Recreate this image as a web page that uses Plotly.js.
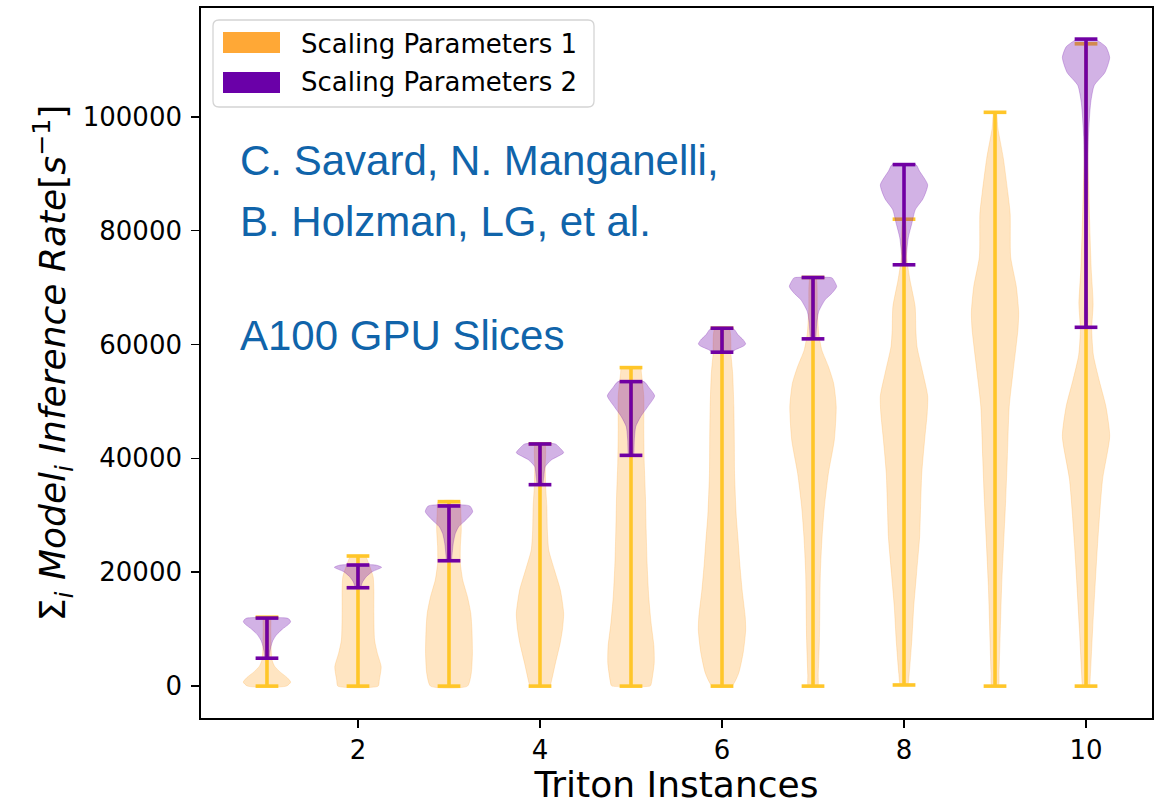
<!DOCTYPE html>
<html>
<head>
<meta charset="utf-8">
<script src="https://cdn.plot.ly/plotly-3.0.1.min.js"></script>
<style>html,body{margin:0;padding:0;background:#fff;}#chart{width:1165px;height:805px;}</style>
</head>
<body>
<div id="chart"></div>
<script>
// ---------- data ----------
const s1Positions = [1, 2, 3, 4, 5, 6, 7, 8, 9, 10];
const s2Positions = [1, 2, 3, 4, 5, 6, 7, 8, 10];
const xTickVals = [2, 4, 6, 8, 10];
const yTickVals = [0, 20000, 40000, 60000, 80000, 100000];

const s1Min = [0, 0, 0, 0, 0, 0, 0, 200, 0, 0];
const s1Max = [12100, 22850, 32400, 42530, 55940, 62860, 71770, 82000, 100780, 112810];
const s2Min = [4900, 17280, 22020, 35380, 40530, 58650, 60990, 74000, 63020];
const s2Max = [11950, 21270, 31640, 42530, 53480, 62860, 71770, 91600, 113640];

// density profiles (value level, relative half-width 0..1)
const s1DensY = [
  [0, 700, 1500, 2500, 3500, 4500, 6000, 8000, 10000, 12100],
  [0, 1050, 3400, 5740, 8100, 12780, 16870, 19210, 21000, 22850],
  [0, 2230, 5740, 9840, 12800, 15700, 18630, 21560, 24480, 27420, 30350, 32400],
  [0, 470, 3990, 7500, 10000, 12780, 16870, 20390, 23900, 27420, 31510, 35030, 38500, 42530],
  [0, 180, 3990, 6900, 11020, 15700, 21560, 27420, 33270, 39140, 45000, 50860, 54940, 55940],
  [0, 2230, 6000, 9840, 12180, 16870, 21560, 25660, 30000, 37380, 43000, 49090, 54940, 58170, 62860],
  [0, 2000, 8100, 19800, 26000, 31510, 37380, 43230, 49090, 53200, 56120, 59050, 62000, 66000, 71770],
  [200, 2230, 8100, 13880, 19800, 26250, 31510, 37380, 43230, 47930, 50960, 54940, 59610, 62500, 66660, 71360, 75000, 82000],
  [0, 2500, 17520, 32570, 40090, 49100, 55130, 62660, 65660, 70180, 75430, 82960, 86710, 92730, 98000, 100780],
  [0, 230, 10020, 25040, 36330, 43850, 49100, 53620, 58140, 62660, 67150, 73180, 79190, 92730, 107770, 112810]
];
const s1DensW = [
  [0.82, 1.0, 0.85, 0.55, 0.32, 0.22, 0.18, 0.17, 0.16, 0.14],
  [0.85, 0.9, 0.98, 0.82, 0.7, 0.67, 0.67, 0.64, 0.5, 0.3],
  [0.78, 0.94, 0.99, 0.97, 0.92, 0.78, 0.58, 0.48, 0.48, 0.52, 0.5, 0.45],
  [0.42, 0.46, 0.65, 0.85, 0.95, 1.0, 0.86, 0.61, 0.37, 0.31, 0.29, 0.24, 0.22, 0.2],
  [0.8, 0.84, 0.98, 0.97, 0.85, 0.75, 0.68, 0.64, 0.61, 0.56, 0.54, 0.54, 0.44, 0.4],
  [0.41, 0.7, 0.9, 1.0, 0.98, 0.85, 0.75, 0.68, 0.6, 0.53, 0.52, 0.5, 0.45, 0.38, 0.3],
  [0.2, 0.22, 0.27, 0.31, 0.38, 0.48, 0.65, 0.9, 0.98, 0.87, 0.65, 0.37, 0.24, 0.18, 0.12],
  [0.15, 0.22, 0.33, 0.41, 0.53, 0.66, 0.7, 0.75, 0.87, 0.98, 1.0, 0.8, 0.55, 0.5, 0.47, 0.25, 0.12, 0.05],
  [0.14, 0.17, 0.28, 0.45, 0.52, 0.6, 0.76, 0.97, 1.0, 0.9, 0.66, 0.64, 0.54, 0.35, 0.12, 0.05],
  [0.15, 0.16, 0.28, 0.49, 0.7, 1.0, 0.84, 0.56, 0.31, 0.24, 0.3, 0.22, 0.17, 0.08, 0.05, 0.04]
];
const s2DensY = [
  [4900, 6000, 7000, 8000, 9000, 10000, 10800, 11300, 11700, 11950],
  [17280, 17450, 18330, 19210, 20090, 20860, 21270],
  [22020, 22730, 25080, 26830, 28000, 29170, 30630, 31640],
  [35380, 35670, 36780, 38540, 39720, 41000, 42000, 42530],
  [40530, 40890, 43230, 45570, 47330, 49090, 50980, 52500, 53480],
  [58650, 59050, 59700, 60100, 60810, 61690, 62500, 62860],
  [60990, 61390, 63740, 65780, 67840, 69000, 70180, 71650, 71770],
  [74000, 75670, 78750, 81230, 83700, 85560, 88040, 90500, 91600],
  [63020, 70180, 85200, 96500, 102520, 105520, 107770, 110410, 112290, 113360, 113640]
];
const s2DensW = [
  [0.08, 0.12, 0.17, 0.25, 0.4, 0.65, 0.9, 1.0, 0.95, 0.85],
  [0.1, 0.12, 0.2, 0.35, 0.6, 1.0, 0.75],
  [0.1, 0.12, 0.18, 0.27, 0.41, 0.71, 1.0, 0.88],
  [0.12, 0.13, 0.16, 0.22, 0.48, 1.0, 0.8, 0.65],
  [0.1, 0.12, 0.14, 0.2, 0.41, 0.71, 1.0, 0.75, 0.55],
  [0.4, 0.55, 0.9, 1.0, 0.9, 0.68, 0.55, 0.45],
  [0.1, 0.12, 0.16, 0.24, 0.51, 0.8, 1.0, 0.82, 0.75],
  [0.08, 0.1, 0.18, 0.33, 0.48, 0.8, 1.0, 0.65, 0.5],
  [0.04, 0.05, 0.07, 0.1, 0.2, 0.35, 0.8, 1.0, 0.84, 0.5, 0.4]
];

const seriesNames = ['Scaling Parameters 1', 'Scaling Parameters 2'];
const noteLines = ['C. Savard, N. Manganelli,', 'B. Holzman, LG, et al.', 'A100 GPU Slices'];

// ---------- styling ----------
const HALF = 0.26;   // max half-width of a violin (x units)
const CAP = 0.125;   // half-length of min/max caps
const c1Fill = 'rgba(255,168,54,0.3)';
const c1Line = '#FFC629';
const c2Fill = 'rgba(106,0,168,0.3)';
const c2Line = '#7000A3';
const c1Patch = '#FFA836';
const c2Patch = '#6A00A8';

function bodies(positions, ys, ws, fill) {
  return positions.map((p, i) => {
    const y = ys[i], w = ws[i];
    const xr = y.map((_, k) => p + w[k] * HALF);
    const xl = y.map((_, k) => p - w[k] * HALF).reverse();
    const yl = y.slice().reverse();
    return {
      type: 'scatter', mode: 'lines',
      x: xr.concat(xl, [xr[0]]), y: y.concat(yl, [y[0]]),
      fill: 'toself', fillcolor: fill,
      line: {color: fill, width: 0.8, shape: 'spline', smoothing: 0.6},
      hoverinfo: 'skip', showlegend: false
    };
  });
}
function whiskers(positions, mins, maxs, color) {
  const x = [], y = [];
  positions.forEach((p, i) => {
    x.push(p - CAP, p + CAP, null, p - CAP, p + CAP, null, p, p, null);
    y.push(mins[i], mins[i], null, maxs[i], maxs[i], null, mins[i], maxs[i], null);
  });
  return {type: 'scatter', mode: 'lines', x, y, connectgaps: false,
    line: {color, width: 3.6}, hoverinfo: 'skip', showlegend: false};
}

const traces = []
  .concat(bodies(s1Positions, s1DensY, s1DensW, c1Fill))
  .concat([whiskers(s1Positions, s1Min, s1Max, c1Line)])
  .concat(bodies(s2Positions, s2DensY, s2DensW, c2Fill))
  .concat([whiskers(s2Positions, s2Min, s2Max, c2Line)]);

// legend / text placement (paper coords)
const W = 951, H = 710;
function px(x) { return (x - 201) / W; }
function py(y) { return (718 - y) / H; }
function roundRect(x0, y0, x1, y1, r) {
  const rx = r / W, ry = r / H;
  const X0 = px(x0), X1 = px(x1), Y0 = py(y1), Y1 = py(y0);
  return `M ${X0 + rx} ${Y0} L ${X1 - rx} ${Y0} Q ${X1} ${Y0} ${X1} ${Y0 + ry} L ${X1} ${Y1 - ry} Q ${X1} ${Y1} ${X1 - rx} ${Y1} L ${X0 + rx} ${Y1} Q ${X0} ${Y1} ${X0} ${Y1 - ry} L ${X0} ${Y0 + ry} Q ${X0} ${Y0} ${X0 + rx} ${Y0} Z`;
}

const shapes = [
  {type: 'path', xref: 'paper', yref: 'paper', path: roundRect(213, 20, 594, 107, 6),
   fillcolor: 'rgba(255,255,255,0.85)', line: {color: '#d4d4d4', width: 1.3}},
  {type: 'rect', xref: 'paper', yref: 'paper', x0: px(223), x1: px(280), y0: py(53), y1: py(32),
   fillcolor: c1Patch, line: {width: 0}},
  {type: 'rect', xref: 'paper', yref: 'paper', x0: px(223), x1: px(280), y0: py(93), y1: py(72),
   fillcolor: c2Patch, line: {width: 0}}
];

const annotations = [
  {xref: 'paper', yref: 'paper', x: px(299), y: py(43.5), xanchor: 'left', yanchor: 'middle',
   text: seriesNames[0], showarrow: false, font: {family: 'DejaVu Sans', size: 26, color: '#000'}},
  {xref: 'paper', yref: 'paper', x: px(299), y: py(82), xanchor: 'left', yanchor: 'middle',
   text: seriesNames[1], showarrow: false, font: {family: 'DejaVu Sans', size: 26, color: '#000'}},
  {xref: 'paper', yref: 'paper', x: px(238), y: py(160), xanchor: 'left', yanchor: 'middle',
   text: noteLines[0], showarrow: false, font: {family: 'Liberation Sans', size: 42, color: '#1064AA'}},
  {xref: 'paper', yref: 'paper', x: px(238), y: py(221), xanchor: 'left', yanchor: 'middle',
   text: noteLines[1], showarrow: false, font: {family: 'Liberation Sans', size: 42, color: '#1064AA'}},
  {xref: 'paper', yref: 'paper', x: px(238), y: py(335), xanchor: 'left', yanchor: 'middle',
   text: noteLines[2], showarrow: false, font: {family: 'Liberation Sans', size: 42, color: '#1064AA'}}
];

const layout = {
  width: 1165, height: 805,
  margin: {l: 201, r: 13, t: 8, b: 87},
  paper_bgcolor: '#ffffff', plot_bgcolor: '#ffffff',
  font: {family: 'DejaVu Sans', color: '#000'},
  showlegend: false,
  xaxis: {
    range: [0.275, 10.725], tickvals: xTickVals, ticktext: xTickVals.map(String),
    showgrid: false, zeroline: false, showline: true, mirror: true,
    linecolor: '#000', linewidth: 1.8, ticks: 'outside', ticklen: 8, tickwidth: 1.5, tickcolor: '#000',
    tickfont: {size: 26, family: 'DejaVu Sans'},
    title: {text: 'Triton Instances', font: {size: 36, family: 'DejaVu Sans'}, standoff: 8}
  },
  yaxis: {
    range: [-5600, 119100], tickvals: yTickVals, ticktext: yTickVals.map(String),
    showgrid: false, zeroline: false, showline: true, mirror: true,
    linecolor: '#000', linewidth: 1.8, ticks: 'outside', ticklen: 8, tickwidth: 1.5, tickcolor: '#000',
    tickfont: {size: 26, family: 'DejaVu Sans'}, ticklabelstandoff: 4,
    title: {text: 'Σ<sub><i>i</i></sub> <i>Model<sub>i</sub> Inference Rate</i>[<i>s</i><sup>−1</sup>]',
            font: {size: 36, family: 'DejaVu Sans'}, standoff: 6}
  },
  shapes, annotations
};

Plotly.newPlot('chart', traces, layout, {staticPlot: true, displayModeBar: false});
</script>
</body>
</html>
